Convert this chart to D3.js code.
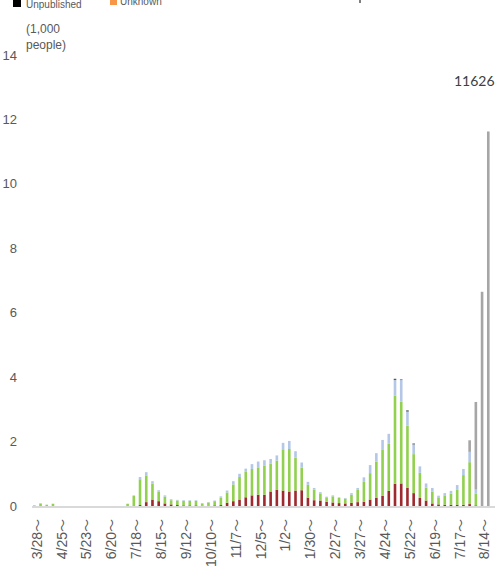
<!DOCTYPE html>
<html><head><meta charset="utf-8">
<script src="https://cdn.jsdelivr.net/npm/d3@7"></script>
<style>body{margin:0;background:#fff}svg{display:block}</style>
</head><body><svg id="c" width="499" height="584"></svg>
<script>
// weekly counts (thousands of people), 74 weeks starting 3/28
const weeks = d3.range(74);
const tickLabels = ["3/28～","4/25～","5/23～","6/20～","7/18～","8/15～","9/12～","10/10～","11/7～","12/5～","1/2～","1/30～","2/27～","3/27～","4/24～","5/22～","6/19～","7/17～","8/14～"];
const redVals = [0,0,0,0,0,0,0,0,0,0,0,0,0,0,0,0,0,.03,.12,.20,.15,.08,.05,.03,.02,.02,.02,.01,.01,.02,.03,.10,.15,.20,.27,.33,.35,.35,.45,.50,.48,.45,.48,.49,.26,.18,.17,.13,.11,.09,.08,.10,.12,.13,.20,.26,.32,.47,.69,.70,.57,.40,.25,.17,.08,.05,.04,.04,.04,.04,.06,.02,0,0];
const greenVals = [.02,.08,.04,.07,0,0,0,0,0,0,0,0,0,0,0,.07,.31,.80,.83,.49,.30,.21,.13,.14,.14,.14,.14,.07,.10,.13,.23,.32,.52,.70,.79,.82,.85,.91,.86,.91,1.28,1.32,1.02,.70,.40,.33,.22,.14,.19,.16,.15,.25,.38,.62,.82,1.12,1.42,1.46,2.73,2.54,1.92,1.21,.78,.40,.36,.22,.29,.34,.46,.92,1.30,.37,0,0];
const blueVals = [0,0,0,0,0,0,0,0,0,0,0,0,0,0,0,0,.02,.07,.10,.08,.04,.04,.03,.02,.02,.02,.02,.01,.01,.02,.04,.06,.10,.10,.10,.15,.18,.16,.15,.16,.20,.25,.20,.16,.09,.05,.04,.02,.03,.02,.02,.05,.06,.14,.25,.26,.31,.31,.49,.67,.44,.30,.20,.13,.12,.05,.07,.09,.15,.19,.32,.12,0,0];
const grayVals = [0,0,0,0,0,0,0,0,0,0,0,0,0,0,0,0,0,0,0,0,0,0,0,0,0,0,0,0,0,0,0,0,0,0,0,0,0,0,0,0,0,0,0,0,0,0,0,0,0,0,0,0,0,0,0,0,0,0,0,0,0,0,0,0,0,0,0,0,0,0,.36,2.72,6.65,11.626];
const unpubVals = [0,0,0,0,0,0,0,0,0,0,0,0,0,0,0,0,0,0,0,0,0,0,0,0,0,0,0,0,0,0,0,0,0,0,0,0,0,0,0,0,0,0,0,0,0,0,0,0,0,0,0,0,0,0,0,0,0,0,.04,.02,.04,.03,0,0,0,0,0,0,0,0,0,0,0,0];
const unknownVals = weeks.map(() => 0);
const yTicks = [0,2,4,6,8,10,12,14];
const lastLabel = "11626";

const seriesKeys = ["red","green","blue","gray","unpub","unknown"];
const colors = {red:"#9E2A2F",green:"#92D050",blue:"#B4C7E7",gray:"#A6A6A6",unpub:"#595959",unknown:"#F79646"};
const table = weeks.map(i => ({i, red:redVals[i], green:greenVals[i], blue:blueVals[i], gray:grayVals[i], unpub:unpubVals[i], unknown:unknownVals[i]}));
const stacked = d3.stack().keys(seriesKeys)(table);

const svg = d3.select("#c");
const x = d3.scaleBand().domain(weeks).range([31.2, 491.4]).paddingInner(0.58).paddingOuter(0.29);
const y = d3.scaleLinear().domain([0,14]).range([506,55]);

// bars
svg.append("g").selectAll("g").data(stacked).join("g")
  .attr("fill", d => colors[d.key])
  .selectAll("rect").data(d => d).join("rect")
  .attr("x", d => x(d.data.i))
  .attr("width", x.bandwidth())
  .attr("y", d => y(d[1]))
  .attr("height", d => Math.max(0, y(d[0]) - y(d[1])));

// baseline
svg.append("line").attr("x1",32).attr("x2",495).attr("y1",507).attr("y2",507)
  .attr("stroke","#D9D9D9").attr("stroke-width",2);

// y axis labels
svg.append("g").selectAll("text").data(yTicks).join("text")
  .attr("x",17).attr("y",d=>y(d)).attr("dy","0.35em").attr("text-anchor","end")
  .attr("font-family","Liberation Sans, Arial, sans-serif").attr("font-size",13).attr("fill","#595959")
  .text(d=>d);

// unit
const unit = svg.append("text").attr("font-family","Liberation Sans, Arial, sans-serif").attr("font-size",12).attr("fill","#595959");
unit.append("tspan").attr("x",26).attr("y",33).text("(1,000");
unit.append("tspan").attr("x",26).attr("y",49).text("people)");

// x labels
const xl = svg.append("g");
weeks.filter(i => i % 4 === 0).forEach((i, k) => {
  const cx = x(i) + x.bandwidth()/2 + 2.5;
  const lab = tickLabels[k];
  const t = xl.append("text").attr("transform",`translate(${cx},519) rotate(-90)`)
    .attr("text-anchor","end").attr("dy","0.35em")
    .attr("font-family","Liberation Sans, Arial, sans-serif").attr("font-size",14).attr("fill","#595959");
  t.append("tspan").text(lab.slice(0, -1));
  t.append("tspan").attr("font-family","Noto Sans CJK JP, sans-serif").attr("font-size",13).text(lab.slice(-1));
});

// value label of last bar
svg.append("text").attr("x", x(73) + x.bandwidth()/2 - 14).attr("y", 86).attr("text-anchor","middle")
  .attr("font-family","Lato, sans-serif").attr("font-size",14).attr("fill","#404040").text(lastLabel);

// legend (cut off at the top)
const lg = svg.append("g").attr("font-family","Liberation Sans, Arial, sans-serif").attr("font-size",10).attr("fill","#595959");
lg.append("rect").attr("x",13).attr("y",-1).attr("width",8).attr("height",8).attr("fill","#000");
lg.append("text").attr("x",26).attr("y",8).text("Unpublished");
lg.append("rect").attr("x",110).attr("y",-2).attr("width",7).attr("height",7).attr("fill","#F79646");
lg.append("text").attr("x",120).attr("y",5).text("Unknown");
lg.append("rect").attr("x",359).attr("y",0).attr("width",2).attr("height",3).attr("fill","#7F7F7F");
</script></body></html>
